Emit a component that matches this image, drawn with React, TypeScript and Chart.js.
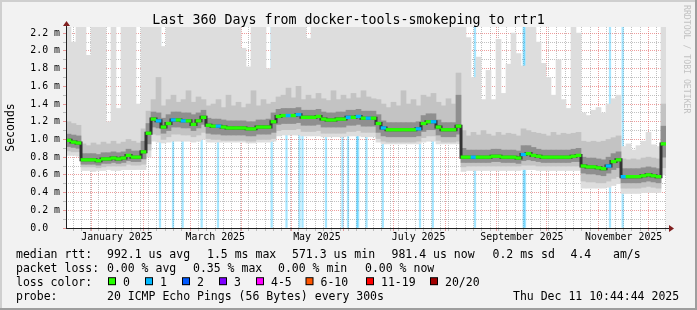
import React, { useEffect, useRef } from 'react';
import { Chart, registerables } from 'chart.js';

Chart.register(...registerables);

const FONT = "'DejaVu Sans Mono', monospace";

const TITLE = 'Last 360 Days from docker-tools-smokeping to rtr1';
const Y_TITLE = 'Seconds';
const WATERMARK = 'RRDTOOL / TOBI OETIKER';
const TOTAL_DAYS = 360;
const BIN_DAYS = 3;
const Y_MAX = 2.27; // milliseconds

// x axis: days since Mon Dec 16 2024 10:44:44
const monthStartDays = [15.552, 46.552, 74.552, 105.552, 135.552, 166.552, 196.552, 227.552, 258.552, 288.552, 319.552, 349.552];
const monthLabelDays = [30.552, 89.552, 150.552, 211.552, 273.552, 334.552];
const monthLabels = ['January 2025', 'March 2025', 'May 2025', 'July 2025', 'September 2025', 'November 2025'];
const minorGridFirstDay = 4.552;
const minorGridStepDays = 5;
const yTickStep = 0.1;
const yTickCount = 23;

// median rtt per 3-day bin (ms)
const medianRtt = [
  0.99, 0.97, 0.96, 0.77, 0.77, 0.77, 0.76, 0.78, 0.78, 0.79,
  0.78, 0.79, 0.82, 0.80, 0.80, 0.86, 1.07, 1.23, 1.21, 1.14,
  1.18, 1.22, 1.22, 1.21, 1.21, 1.17, 1.21, 1.25, 1.16, 1.15,
  1.15, 1.14, 1.13, 1.13, 1.13, 1.13, 1.12, 1.12, 1.14, 1.14,
  1.14, 1.20, 1.26, 1.27, 1.27, 1.27, 1.28, 1.25, 1.25, 1.25,
  1.26, 1.23, 1.22, 1.22, 1.23, 1.23, 1.25, 1.25, 1.26, 1.24,
  1.24, 1.24, 1.18, 1.13, 1.11, 1.11, 1.11, 1.11, 1.11, 1.11,
  1.12, 1.18, 1.20, 1.20, 1.14, 1.11, 1.11, 1.11, 1.15, 0.80,
  0.80, 0.80, 0.80, 0.80, 0.80, 0.81, 0.81, 0.80, 0.80, 0.80,
  0.79, 0.83, 0.84, 0.82, 0.81, 0.80, 0.80, 0.80, 0.80, 0.80,
  0.80, 0.81, 0.82, 0.70, 0.69, 0.69, 0.68, 0.67, 0.70, 0.75,
  0.77, 0.58, 0.58, 0.58, 0.58, 0.59, 0.60, 0.59, 0.58, 0.95,
];

// dense smoke band around the median
const darkLow = [
  0.92, 0.91, 0.90, 0.72, 0.72, 0.72, 0.71, 0.73, 0.73, 0.74,
  0.73, 0.74, 0.76, 0.75, 0.75, 0.78, 0.95, 1.14, 1.13, 1.07,
  1.10, 1.14, 1.14, 1.13, 1.13, 1.10, 1.13, 1.17, 1.07, 1.06,
  1.06, 1.05, 1.05, 1.05, 1.05, 1.05, 1.04, 1.04, 1.06, 1.06,
  1.06, 1.08, 1.17, 1.18, 1.18, 1.18, 1.19, 1.16, 1.16, 1.16,
  1.17, 1.14, 1.14, 1.14, 1.14, 1.14, 1.16, 1.16, 1.17, 1.15,
  1.15, 1.15, 1.08, 1.04, 1.03, 1.03, 1.03, 1.03, 1.03, 1.03,
  1.04, 1.09, 1.11, 1.11, 1.05, 1.03, 1.03, 1.03, 1.06, 0.74,
  0.74, 0.74, 0.74, 0.74, 0.74, 0.75, 0.75, 0.74, 0.74, 0.74,
  0.73, 0.76, 0.77, 0.76, 0.75, 0.74, 0.74, 0.74, 0.74, 0.74,
  0.74, 0.75, 0.75, 0.62, 0.61, 0.61, 0.60, 0.59, 0.62, 0.66,
  0.68, 0.51, 0.51, 0.51, 0.51, 0.52, 0.53, 0.52, 0.51, 0.80,
];
const darkHigh = [
  1.06, 1.05, 1.04, 0.84, 0.84, 0.84, 0.83, 0.85, 0.85, 0.86,
  0.85, 0.86, 0.89, 0.87, 0.87, 0.98, 1.18, 1.31, 1.30, 1.24,
  1.28, 1.31, 1.31, 1.30, 1.30, 1.28, 1.30, 1.33, 1.24, 1.23,
  1.23, 1.22, 1.21, 1.21, 1.21, 1.21, 1.20, 1.20, 1.22, 1.22,
  1.23, 1.30, 1.34, 1.35, 1.35, 1.35, 1.36, 1.33, 1.33, 1.33,
  1.34, 1.31, 1.30, 1.30, 1.31, 1.31, 1.33, 1.33, 1.34, 1.32,
  1.32, 1.32, 1.28, 1.21, 1.19, 1.19, 1.19, 1.19, 1.19, 1.19,
  1.20, 1.27, 1.29, 1.29, 1.22, 1.19, 1.19, 1.19, 1.50, 0.90,
  0.88, 0.88, 0.88, 0.88, 0.88, 0.89, 0.89, 0.88, 0.88, 0.88,
  0.87, 0.93, 0.93, 0.91, 0.89, 0.88, 0.88, 0.88, 0.88, 0.88,
  0.88, 0.89, 0.90, 0.80, 0.79, 0.79, 0.78, 0.77, 0.80, 0.84,
  0.86, 0.67, 0.67, 0.67, 0.67, 0.68, 0.69, 0.68, 0.67, 1.15,
];

// middle smoke band
const midLow = [
  0.87, 0.86, 0.86, 0.69, 0.69, 0.69, 0.68, 0.69, 0.70, 0.70,
  0.70, 0.70, 0.72, 0.71, 0.71, 0.72, 0.88, 1.06, 1.05, 1.00,
  1.03, 1.06, 1.06, 1.05, 1.05, 1.03, 1.05, 1.08, 1.01, 1.00,
  1.00, 0.99, 0.99, 0.99, 0.99, 0.99, 0.98, 0.98, 1.00, 1.00,
  1.00, 1.01, 1.10, 1.11, 1.11, 1.11, 1.12, 1.09, 1.09, 1.09,
  1.10, 1.07, 1.07, 1.07, 1.07, 1.07, 1.09, 1.09, 1.10, 1.08,
  1.08, 1.08, 1.01, 0.98, 0.97, 0.97, 0.97, 0.97, 0.97, 0.97,
  0.98, 1.02, 1.04, 1.04, 0.99, 0.97, 0.97, 0.97, 0.98, 0.69,
  0.70, 0.70, 0.70, 0.70, 0.70, 0.70, 0.70, 0.70, 0.70, 0.70,
  0.70, 0.71, 0.71, 0.71, 0.70, 0.70, 0.70, 0.70, 0.70, 0.70,
  0.70, 0.70, 0.70, 0.53, 0.52, 0.52, 0.51, 0.51, 0.53, 0.56,
  0.58, 0.45, 0.45, 0.45, 0.45, 0.46, 0.47, 0.46, 0.45, 0.68,
];
const midHigh = [
  1.20, 1.18, 1.16, 0.95, 0.93, 0.96, 0.94, 0.97, 0.95, 0.98,
  0.95, 0.97, 1.00, 0.98, 0.96, 1.12, 1.32, 1.45, 1.70, 1.38,
  1.45, 1.50, 1.42, 1.45, 1.55, 1.42, 1.48, 1.45, 1.38, 1.40,
  1.45, 1.36, 1.50, 1.38, 1.42, 1.36, 1.40, 1.55, 1.38, 1.45,
  1.40, 1.42, 1.48, 1.50, 1.58, 1.47, 1.60, 1.45, 1.50, 1.46,
  1.52, 1.46, 1.44, 1.55, 1.45, 1.50, 1.46, 1.52, 1.47, 1.55,
  1.48, 1.46, 1.45, 1.40, 1.36, 1.42, 1.38, 1.55, 1.40, 1.45,
  1.38, 1.50, 1.48, 1.52, 1.42, 1.38, 1.46, 1.40, 1.75, 1.10,
  1.04, 1.08, 1.05, 1.10, 1.06, 1.04, 1.08, 1.05, 1.07, 1.06,
  1.04, 1.12, 1.10, 1.08, 1.07, 1.06, 1.04, 1.08, 1.05, 1.07,
  1.06, 1.07, 1.08, 0.98, 0.97, 0.98, 0.97, 0.98, 1.00, 1.02,
  1.04, 0.78, 0.77, 0.78, 0.77, 0.79, 0.80, 0.79, 0.78, 1.40,
];

// outer (light) smoke
const lightLow = [
  0.82, 0.82, 0.81, 0.65, 0.65, 0.64, 0.65, 0.65, 0.66, 0.65,
  0.65, 0.66, 0.66, 0.66, 0.66, 0.66, 0.80, 0.98, 0.97, 0.96,
  0.97, 0.98, 0.98, 0.98, 0.98, 0.97, 0.98, 1.00, 0.97, 0.97,
  0.97, 0.97, 0.97, 0.97, 0.97, 0.97, 0.96, 0.96, 0.97, 0.97,
  0.97, 0.98, 1.04, 1.05, 1.05, 1.05, 1.05, 1.04, 1.04, 1.04,
  1.04, 1.03, 1.03, 1.03, 1.03, 1.03, 1.04, 1.04, 1.04, 1.03,
  1.03, 1.03, 0.97, 0.95, 0.95, 0.95, 0.95, 0.95, 0.95, 0.95,
  0.95, 0.97, 0.98, 0.98, 0.95, 0.95, 0.95, 0.95, 0.95, 0.64,
  0.65, 0.65, 0.65, 0.65, 0.65, 0.65, 0.65, 0.65, 0.65, 0.65,
  0.65, 0.66, 0.66, 0.66, 0.65, 0.65, 0.65, 0.65, 0.65, 0.65,
  0.65, 0.65, 0.65, 0.45, 0.45, 0.45, 0.45, 0.45, 0.46, 0.48,
  0.50, 0.39, 0.39, 0.39, 0.39, 0.40, 0.40, 0.40, 0.40, 0.60,
];
const lightHigh = [
  2.27, 2.10, 2.27, 2.27, 1.95, 2.27, 2.27, 2.27, 1.20, 2.27,
  1.35, 2.27, 2.27, 2.27, 1.40, 2.27, 2.27, 2.27, 2.27, 2.05,
  2.27, 2.27, 2.27, 2.27, 2.27, 2.27, 2.27, 2.27, 2.27, 2.27,
  2.27, 2.27, 2.27, 2.27, 2.27, 2.03, 1.82, 2.27, 2.27, 2.27,
  1.80, 2.27, 2.27, 2.27, 2.27, 2.27, 2.27, 2.27, 2.14, 2.27,
  2.27, 2.27, 2.27, 2.27, 2.27, 2.27, 2.27, 2.27, 2.27, 2.27,
  2.27, 2.27, 2.27, 2.27, 2.27, 2.27, 2.27, 2.27, 2.27, 2.27,
  2.27, 2.27, 2.27, 2.27, 2.27, 2.27, 2.27, 2.27, 2.27, 2.27,
  2.15, 1.70, 1.93, 1.45, 1.78, 1.45, 2.13, 1.52, 1.85, 2.20,
  1.97, 1.83, 2.27, 2.27, 2.10, 1.86, 1.70, 1.50, 1.90, 1.45,
  1.35, 2.27, 2.20, 1.30, 1.27, 1.33, 1.36, 1.30, 1.40, 1.46,
  1.50, 0.92, 0.95, 0.88, 0.93, 0.98, 1.08, 0.94, 0.92, 2.27,
];

// bins whose median had 1 lost ping
const medianLossBins = [18, 21, 23, 30, 44, 46, 56, 58, 60, 63, 70, 73, 81, 91, 108, 111];
// loss background marks (day offsets)
const lossDays = [56.4, 64.2, 70.0, 81.4, 91.2, 123.4, 132.3, 140.1, 141.9, 156.0, 165.9, 169.2, 174.6, 175.3, 180.3, 190.1, 212.4, 220.1, 245.4, 274.6, 275.4, 326.4, 334.0];

const lossColorLabels = ['0', '1', '2', '3', '4-5', '6-10', '11-19', '20/20'];
const lossColors = ['#26ff00', '#00b8ff', '#0059ff', '#7e00ff', '#ff00ff', '#ff5500', '#ff0000', '#a10000'];

const legendLine1 = ['median rtt:', '992.1 us avg', '1.5 ms max', '571.3 us min', '981.4 us now', '0.2 ms sd', '4.4', 'am/s'];
const legendLine2 = ['packet loss:', '0.00 % avg', '0.35 % max', '0.00 % min', '0.00 % now'];
const legendLine3Title = 'loss color:';
const legendLine4 = ['probe:', '20 ICMP Echo Pings (56 Bytes) every 300s', 'Thu Dec 11 10:44:44 2025'];

// layout positions (pixels)
const line1X = [16, 107, 207, 292, 391.5, 492.5, 570.5, 613];
const line2X = [16, 107, 193, 278, 365];
const boxX = [108, 145, 182, 219, 256, 305.5, 366, 430];
const line4X = [16, 107, 513];
const lineBase = [257.5, 271.6, 285.7, 299.8];

const MAJOR = 'rgba(222,79,79,0.55)';
const MINOR = 'rgba(143,143,143,0.55)';
const NONE = 'rgba(0,0,0,0)';

type Tk = { value: number; kind: string; lbl: string };

function buildXTicks(): Tk[] {
  const m = new Map<number, Tk>();
  const key = (d: number) => Math.round(d * 1000) / 1000;
  for (let k = 0; minorGridFirstDay + k * minorGridStepDays < TOTAL_DAYS; k++) {
    const v = key(minorGridFirstDay + k * minorGridStepDays);
    m.set(v, { value: v, kind: 'minor', lbl: '' });
  }
  monthStartDays.forEach((d) => {
    const v = key(d);
    m.set(v, { value: v, kind: 'major', lbl: '' });
  });
  monthLabelDays.forEach((d, i) => {
    const v = key(d);
    const e = m.get(v);
    if (e) e.lbl = monthLabels[i];
    else m.set(v, { value: v, kind: 'label', lbl: monthLabels[i] });
  });
  return [...m.values()].sort((a, b) => a.value - b.value);
}

function buildYTicks(): Tk[] {
  const out: Tk[] = [];
  for (let i = 0; i < yTickCount; i++) {
    const v = Math.round(i * yTickStep * 10) / 10;
    const major = i % 2 === 0;
    out.push({ value: v, kind: major ? 'major' : 'minor', lbl: major ? (i === 0 ? '0.0  ' : v.toFixed(1) + ' m') : '' });
  }
  return out;
}

const gridColor = (c: any) => (c.tick && c.tick.kind === 'major' ? MAJOR : c.tick && c.tick.kind === 'minor' ? MINOR : NONE);

const binCenter = (i: number) => i * BIN_DAYS + BIN_DAYS / 2;
const band = (lo: number[], hi: number[]) => lo.map((l, i) => ({ x: binCenter(i), y: [l, hi[i]] }));

const rrdPlugin = {
  id: 'rrdDecor',
  beforeDraw(chart: any) {
    const { ctx, width, height, chartArea: a } = chart;
    ctx.save();
    ctx.fillStyle = '#f2f2f2';
    ctx.fillRect(0, 0, width, height);
    ctx.fillStyle = '#cfcfcf';
    ctx.fillRect(0, 0, width, 2);
    ctx.fillRect(0, 0, 2, height);
    ctx.fillStyle = '#9e9e9e';
    ctx.fillRect(0, height - 2, width, 2);
    ctx.fillRect(width - 2, 0, 2, height);
    ctx.fillStyle = '#ffffff';
    ctx.fillRect(a.left, a.top, a.right - a.left, a.bottom - a.top);
    ctx.restore();
  },
  afterDraw(chart: any) {
    const { ctx, chartArea: a } = chart;
    ctx.save();
    // axes
    ctx.fillStyle = '#202020';
    ctx.fillRect(a.left, 25, 1, a.bottom - 25 + 1);
    ctx.fillRect(a.left, a.bottom, a.right + 4 - a.left, 1);
    ctx.fillStyle = '#801f1f';
    ctx.beginPath();
    ctx.moveTo(a.left - 3, 26);
    ctx.lineTo(a.left + 4, 26);
    ctx.lineTo(a.left + 0.5, 21);
    ctx.closePath();
    ctx.fill();
    ctx.beginPath();
    ctx.moveTo(a.right + 3, a.bottom - 3);
    ctx.lineTo(a.right + 3, a.bottom + 4);
    ctx.lineTo(a.right + 8, a.bottom + 0.5);
    ctx.closePath();
    ctx.fill();

    // title
    ctx.fillStyle = '#000';
    ctx.textBaseline = 'alphabetic';
    ctx.textAlign = 'center';
    ctx.font = `13.3px ${FONT}`;
    ctx.fillText(TITLE, 348.5, 24);

    // legend
    ctx.textAlign = 'left';
    ctx.font = `11.5px ${FONT}`;
    legendLine1.forEach((t, i) => ctx.fillText(t, line1X[i], lineBase[0]));
    legendLine2.forEach((t, i) => ctx.fillText(t, line2X[i], lineBase[1]));
    ctx.fillText(legendLine3Title, 16, lineBase[2]);
    lossColorLabels.forEach((t, i) => {
      const bx = boxX[i];
      const by = lineBase[2] - 8.5;
      ctx.fillStyle = '#000';
      ctx.fillRect(bx, by, 8, 8);
      ctx.fillStyle = lossColors[i];
      ctx.fillRect(bx + 1, by + 1, 6, 6);
      ctx.fillStyle = '#000';
      ctx.fillText(t, bx + 15, lineBase[2]);
    });
    legendLine4.forEach((t, i) => ctx.fillText(t, line4X[i], lineBase[3]));

    // watermark
    ctx.save();
    ctx.translate(684, 5);
    ctx.rotate(Math.PI / 2);
    ctx.font = `8.2px ${FONT}`;
    ctx.fillStyle = '#c2c2c2';
    ctx.fillText(WATERMARK, 0, 0);
    ctx.restore();
    ctx.restore();
  },
};

export default function App() {
  const ref = useRef<HTMLCanvasElement | null>(null);

  useEffect(() => {
    document.body.style.margin = '0';
    const canvas = ref.current;
    if (!canvas) return;
    Chart.defaults.font.family = FONT;

    const green = medianRtt.map((m, i) => ({ x: binCenter(i), y: [m - 0.015, m + 0.015] }));
    const greenColors = medianRtt.map((_, i) => (medianLossBins.includes(i) ? lossColors[1] : lossColors[0]));

    const chart = new Chart(canvas, {
      type: 'bar',
      data: {
        datasets: [
          {
            type: 'bar',
            label: 'loss',
            data: lossDays.map((d) => ({ x: d, y: [0, Y_MAX] })) as any,
            backgroundColor: 'rgba(0,184,255,0.35)',
            barThickness: 1.6,
            grouped: false,
            order: 10,
          },
          {
            type: 'bar',
            label: 'smoke light',
            data: band(lightLow, lightHigh) as any,
            backgroundColor: '#dddddd',
            barThickness: 5,
            grouped: false,
            order: 9,
          },
          {
            type: 'bar',
            label: 'smoke mid',
            data: band(midLow, midHigh) as any,
            backgroundColor: '#c3c3c3',
            barThickness: 5,
            grouped: false,
            order: 8,
          },
          {
            type: 'bar',
            label: 'smoke dark',
            data: band(darkLow, darkHigh) as any,
            backgroundColor: '#8f8f8f',
            barThickness: 5,
            grouped: false,
            order: 7,
          },
          {
            type: 'line',
            label: 'median core',
            data: medianRtt.map((m, i) => ({ x: binCenter(i), y: m })) as any,
            borderColor: '#333333',
            borderWidth: 3,
            pointRadius: 0,
            stepped: 'middle',
            order: 6,
          },
          {
            type: 'bar',
            label: 'median rtt',
            data: green as any,
            backgroundColor: greenColors,
            barThickness: 5,
            grouped: false,
            order: 5,
          },
        ],
      },
      options: {
        animation: false,
        responsive: false,
        events: [],
        layout: { padding: { left: 0, right: 31, top: 27, bottom: 0 } },
        plugins: {
          legend: { display: false },
          title: { display: false },
          tooltip: { enabled: false },
        },
        scales: {
          x: {
            type: 'linear',
            min: 0,
            max: TOTAL_DAYS,
            offset: false,
            z: 1,
            grid: {
              offset: false,
              color: gridColor,
              tickColor: gridColor,
              lineWidth: 1,
              tickLength: 3,
              drawTicks: true,
            },
            border: { display: false, dash: [1, 1] },
            ticks: {
              autoSkip: false,
              maxRotation: 0,
              minRotation: 0,
              padding: 0,
              color: '#000',
              font: { family: FONT, size: 9.9 },
              callback: (_v: any, i: number, ticks: any[]) => (ticks[i] as any).lbl ?? '',
            },
            afterBuildTicks: (s: any) => {
              s.ticks = buildXTicks();
            },
            afterFit: (s: any) => {
              s.height = 82;
            },
          } as any,
          y: {
            type: 'linear',
            min: 0,
            max: Y_MAX,
            z: 1,
            grid: {
              color: gridColor,
              tickColor: gridColor,
              lineWidth: 1,
              tickLength: 3,
              drawTicks: true,
            },
            border: { display: false, dash: [1, 1] },
            ticks: {
              autoSkip: false,
              padding: 3,
              color: '#000',
              font: { family: FONT, size: 9.9 },
              callback: (_v: any, i: number, ticks: any[]) => (ticks[i] as any).lbl ?? '',
            },
            title: {
              display: true,
              text: Y_TITLE,
              color: '#000',
              font: { family: FONT, size: 11.5 },
              padding: { top: 4, bottom: 0 },
            },
            afterBuildTicks: (s: any) => {
              s.ticks = buildYTicks();
            },
            afterFit: (s: any) => {
              s.width = 66;
            },
          } as any,
        },
      },
      plugins: [rrdPlugin],
    } as any);

    return () => {
      chart.destroy();
    };
  }, []);

  return (
    <div style={{ width: 697, height: 310, position: 'relative' }}>
      <canvas ref={ref} width={697} height={310} style={{ display: 'block', width: 697, height: 310 }} />
    </div>
  );
}
